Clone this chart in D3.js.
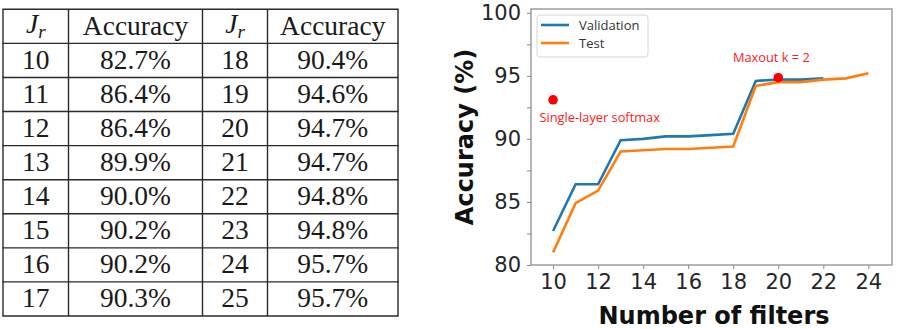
<!DOCTYPE html>
<html>
<head>
<meta charset="utf-8">
<script src="https://cdn.jsdelivr.net/npm/d3@7"></script>
<style>
  html, body { margin: 0; padding: 0; background: #fff; }
  svg { display: block; }
</style>
</head>
<body>
<svg id="fig" width="907" height="329"></svg>
<script>
// ---------- Data ----------
const tableJrLeft = [10, 11, 12, 13, 14, 15, 16, 17];
const tableAccLeft = ["82.7%", "86.4%", "86.4%", "89.9%", "90.0%", "90.2%", "90.2%", "90.3%"];
const tableJrRight = [18, 19, 20, 21, 22, 23, 24, 25];
const tableAccRight = ["90.4%", "94.6%", "94.7%", "94.7%", "94.8%", "94.8%", "95.7%", "95.7%"];

const valFilters = [10, 11, 12, 13, 14, 15, 16, 17, 18, 19, 20, 21, 22];
const validation = [82.7, 86.4, 86.4, 89.9, 90.0, 90.2, 90.2, 90.3, 90.4, 94.6, 94.7, 94.7, 94.8];
const testFilters = [10, 11, 12, 13, 14, 15, 16, 17, 18, 19, 20, 21, 22, 23, 24];
const test = [81.0, 84.9, 85.9, 89.0, 89.1, 89.2, 89.2, 89.3, 89.4, 94.2, 94.5, 94.5, 94.7, 94.8, 95.2];

const xTicks = [10, 12, 14, 16, 18, 20, 22, 24];
const yTicks = [80, 82.5, 85, 87.5, 90, 92.5, 95, 97.5, 100];
const yTickLabels = [80, 85, 90, 95, 100];

const points = [
  { label: "Single-layer softmax", x: 10, y: 93.1 },
  { label: "Maxout k = 2", x: 20, y: 94.85 }
];

// ---------- Table ----------
const svg = d3.select("#fig");
const tbl = svg.append("g");
const colX = [3, 68.5, 202.5, 267.5, 398];
const rowTop = 9.3, rowBottom = 316;
const nRows = 9;
const rowY = d3.scaleLinear().domain([0, nRows]).range([rowTop, rowBottom]);
const lineColor = "#2a2a2a";

for (let i = 0; i <= nRows; i++) {
  tbl.append("line").attr("x1", colX[0] - 0.6).attr("x2", colX[4] + 0.6)
    .attr("y1", rowY(i)).attr("y2", rowY(i))
    .attr("stroke", lineColor).attr("stroke-width", 1.4);
}
colX.forEach(x => {
  tbl.append("line").attr("x1", x).attr("x2", x)
    .attr("y1", rowTop).attr("y2", rowBottom)
    .attr("stroke", lineColor).attr("stroke-width", 1.4);
});

const colCenter = i => (colX[i] + colX[i + 1]) / 2;
const serif = "'Liberation Serif', 'Times New Roman', serif";

function cell(col, row, txt) {
  tbl.append("text").attr("x", colCenter(col)).attr("y", rowY(row) + 25.5)
    .attr("text-anchor", "middle").attr("font-family", serif)
    .attr("font-size", 27.5).attr("fill", "#1a1a1a").text(txt);
}
function jr(col) {
  const t = tbl.append("text").attr("x", colCenter(col)).attr("y", rowY(0) + 24)
    .attr("text-anchor", "middle").attr("font-family", serif)
    .attr("font-size", 27.5).attr("fill", "#1a1a1a");
  t.append("tspan").attr("font-style", "italic").text("J");
  t.append("tspan").attr("font-style", "italic").attr("font-size", 19).attr("dy", 5).text("r");
}
jr(0); jr(2);
cell(1, 0, "Accuracy");
cell(3, 0, "Accuracy");
tableJrLeft.forEach((v, i) => cell(0, i + 1, v));
tableAccLeft.forEach((v, i) => cell(1, i + 1, v));
tableJrRight.forEach((v, i) => cell(2, i + 1, v));
tableAccRight.forEach((v, i) => cell(3, i + 1, v));

// ---------- Chart ----------
const L = 531, R = 892, T = 9, B = 265;
const x = d3.scaleLinear().domain([9.02, 25.05]).range([L, R]);
const y = d3.scaleLinear().domain([80, 100.3]).range([B, T]);
const sans = "'DejaVu Sans', sans-serif";
const g = svg.append("g");

// ticks
const xAxis = d3.axisBottom(x).tickValues(xTicks).tickSize(4).tickPadding(5).tickFormat(d3.format("d"));
const xa = g.append("g").attr("transform", `translate(0,${B})`).call(xAxis);
xa.select(".domain").remove();
xa.selectAll(".tick line").attr("stroke", "#888").attr("stroke-width", 1);
xa.selectAll(".tick text").attr("font-family", sans).attr("font-size", 21).attr("fill", "#262626");

const yAxis = d3.axisLeft(y).tickValues(yTicks).tickSize(4).tickPadding(6)
  .tickFormat(d => yTickLabels.includes(d) ? d3.format("d")(d) : "");
const ya = g.append("g").attr("transform", `translate(${L},0)`).call(yAxis);
ya.select(".domain").remove();
ya.selectAll(".tick line").attr("stroke", "#888").attr("stroke-width", 1);
ya.selectAll(".tick text").attr("font-family", sans).attr("font-size", 21).attr("fill", "#262626");

// frame
g.append("rect").attr("x", L).attr("y", T).attr("width", R - L).attr("height", B - T)
  .attr("fill", "none").attr("stroke", "#8f8f8f").attr("stroke-width", 1.3);

// lines
const line = d3.line().x(d => x(d[0])).y(d => y(d[1]));
g.append("path").datum(valFilters.map((f, i) => [f, validation[i]]))
  .attr("d", line).attr("fill", "none").attr("stroke", "#1f77b4").attr("stroke-width", 2.6);
g.append("path").datum(testFilters.map((f, i) => [f, test[i]]))
  .attr("d", line).attr("fill", "none").attr("stroke", "#ff7f0e").attr("stroke-width", 2.6);

// points
points.forEach(p => {
  g.append("circle").attr("cx", x(p.x)).attr("cy", y(p.y)).attr("r", 4.8).attr("fill", "#ff0000");
});
const annFont = "'Open Sans', sans-serif";
g.append("text").attr("x", 539.5).attr("y", 122).attr("font-family", annFont).attr("font-size", 12.8)
  .attr("fill", "#ff2020").text(points[0].label);
g.append("text").attr("x", 733).attr("y", 62).attr("font-family", annFont).attr("font-size", 12.8)
  .attr("fill", "#ff2020").text(points[1].label);

// legend
const lg = g.append("g");
lg.append("rect").attr("x", 537).attr("y", 15).attr("width", 111).attr("height", 42).attr("rx", 3)
  .attr("fill", "#fff").attr("stroke", "#d6d6d6").attr("stroke-width", 1);
[["Validation", "#1f77b4", 25], ["Test", "#ff7f0e", 43]].forEach(([name, c, yy]) => {
  lg.append("line").attr("x1", 541).attr("x2", 569).attr("y1", yy).attr("y2", yy)
    .attr("stroke", c).attr("stroke-width", 2.6);
  lg.append("text").attr("x", 579).attr("y", yy + 4.5).attr("font-family", annFont)
    .attr("font-size", 13).attr("fill", "#333").text(name);
});

// axis labels
g.append("text").attr("x", 714).attr("y", 323.5).attr("text-anchor", "middle")
  .attr("font-family", sans).attr("font-weight", "bold").attr("font-size", 24).attr("fill", "#111")
  .text("Number of filters");
g.append("text").attr("transform", `translate(473,137) rotate(-90)`).attr("text-anchor", "middle")
  .attr("font-family", sans).attr("font-weight", "bold").attr("font-size", 24).attr("fill", "#111")
  .text("Accuracy (%)");
</script>
</body>
</html>
